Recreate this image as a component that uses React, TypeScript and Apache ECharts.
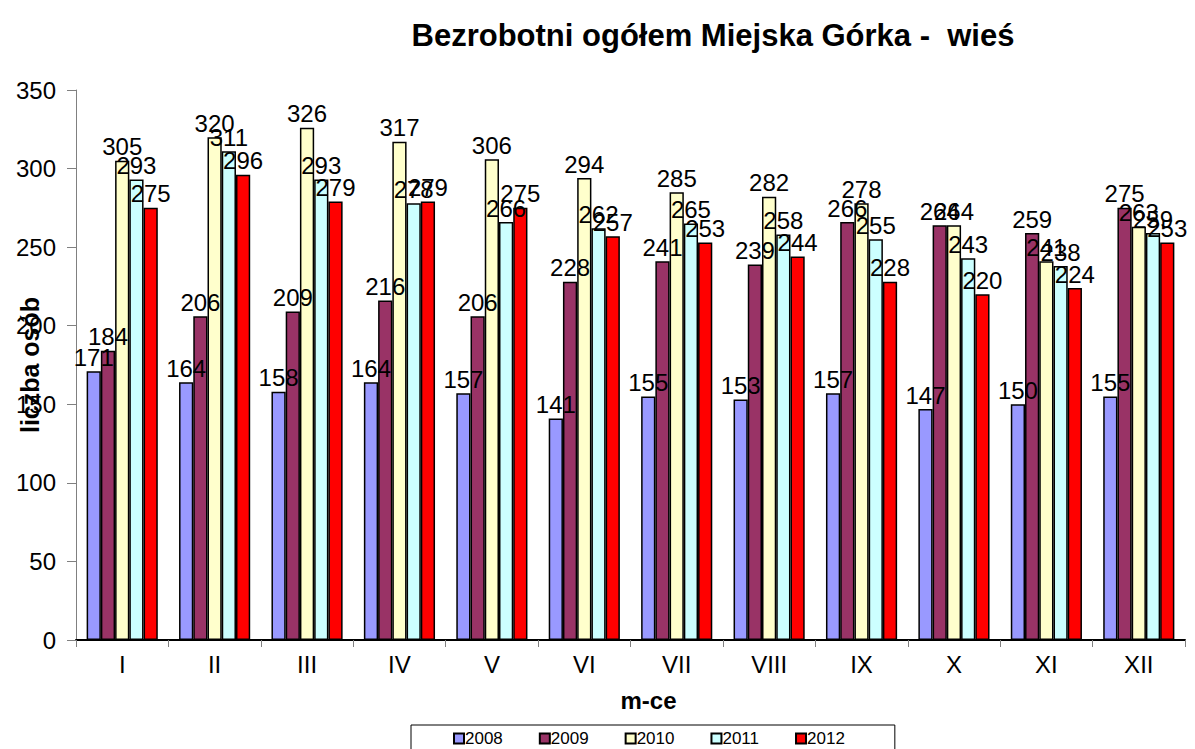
import React, { useEffect, useRef } from "react";
import * as echarts from "echarts";

const months = ["I", "II", "III", "IV", "V", "VI", "VII", "VIII", "IX", "X", "XI", "XII"];
const years = ["2008", "2009", "2010", "2011", "2012"];
const v2008 = [171, 164, 158, 164, 157, 141, 155, 153, 157, 147, 150, 155];
const v2009 = [184, 206, 209, 216, 206, 228, 241, 239, 266, 264, 259, 275];
const v2010 = [305, 320, 326, 317, 306, 294, 285, 282, 278, 264, 241, 263];
const v2011 = [293, 311, 293, 278, 266, 262, 265, 258, 255, 243, 238, 259];
const v2012 = [275, 296, 279, 279, 275, 257, 253, 244, 228, 220, 224, 253];
const colors = ["#9999FF", "#993366", "#FFFFCC", "#CCFFFF", "#FF0000"];

const FONT = "Liberation Sans, Arial, sans-serif";

export default function App() {
  const ref = useRef<HTMLDivElement>(null);
  useEffect(() => {
    const chart = echarts.init(ref.current!, null, { renderer: "svg" });
    const data = [v2008, v2009, v2010, v2011, v2012];
    chart.setOption({
      animation: false,
      backgroundColor: "#ffffff",
      textStyle: { fontFamily: FONT },
      title: {
        text: "Bezrobotni ogółem Miejska Górka -  wieś",
        left: 708,
        textAlign: "center",
        top: 15,
        textStyle: { fontSize: 31, fontWeight: "bold", color: "#000", fontFamily: FONT },
      },
      legend: {
        data: years,
        left: 411,
        top: 725,
        padding: [5, 50, 8, 42],
        borderColor: "#000",
        borderWidth: 1,
        itemWidth: 10,
        itemHeight: 10,
        itemGap: 36,
        icon: "rect",
        textStyle: { fontSize: 17, color: "#000", padding: [0, 0, 0, -4] },
      },
      grid: { left: 76, right: 10, top: 90, bottom: 109, containLabel: false, outerBoundsMode: "none" },
      xAxis: {
        type: "category",
        data: months,
        name: "m-ce",
        nameLocation: "middle",
        nameGap: 48,
        nameMoveOverlap: false,
        nameTextStyle: { fontSize: 24, fontWeight: "bold", color: "#000", padding: [0, 0, 0, 36] },
        axisLine: { lineStyle: { color: "#000", width: 2 } },
        axisTick: { show: true, length: 7, interval: 0, lineStyle: { color: "#808080" } },
        axisLabel: { fontSize: 24, color: "#000", margin: 12 },
      },
      yAxis: {
        type: "value",
        min: 0,
        max: 350,
        interval: 50,
        name: "liczba osób",
        nameLocation: "middle",
        nameGap: 34,
        nameMoveOverlap: false,
        nameTextStyle: { fontSize: 25, fontWeight: "bold", color: "#000" },
        axisLine: { show: true, lineStyle: { color: "#808080", width: 1 } },
        axisTick: { show: true, length: 9, lineStyle: { color: "#808080" } },
        axisLabel: { fontSize: 24, color: "#000", margin: 20 },
        splitLine: { show: false },
      },
      series: years.map((y, i) => ({
        name: y,
        type: "bar",
        data: data[i],
        barGap: "0%",
        barCategoryGap: "23%",
        itemStyle: { color: colors[i], borderColor: "#000", borderWidth: 1.5 },
        label: {
          show: true,
          position: "top",
          distance: 2,
          fontSize: 24,
          color: "#000",
        },
      })),
    });
    return () => chart.dispose();
  }, []);
  return <div ref={ref} style={{ width: 1195, height: 749, position: "absolute", left: 0, top: 0 }} />;
}
